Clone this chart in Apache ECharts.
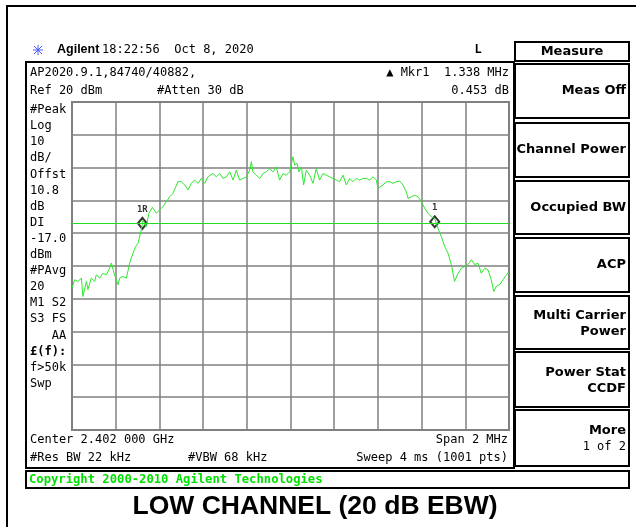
<!DOCTYPE html>
<html>
<head>
<meta charset="utf-8">
<script src="https://cdn.jsdelivr.net/npm/echarts@6/dist/echarts.min.js"></script>
<style>
  html, body { margin: 0; padding: 0; background: #fff; }
  #chart { width: 636px; height: 527px; }
</style>
</head>
<body>
<div id="chart"></div>
<script>
// trace (MHz, dBm)
const freqMHz = [
  2401.000, 2401.012, 2401.027, 2401.043, 2401.050, 2401.066, 2401.073, 2401.088, 2401.104, 2401.111,
  2401.127, 2401.142, 2401.157, 2401.172, 2401.180, 2401.188, 2401.195, 2401.211, 2401.218, 2401.233,
  2401.249, 2401.256, 2401.264, 2401.279, 2401.291, 2401.302, 2401.317, 2401.325, 2401.333, 2401.340,
  2401.352, 2401.368, 2401.386, 2401.401, 2401.416, 2401.432, 2401.447, 2401.462, 2401.485, 2401.500,
  2401.516, 2401.531, 2401.546, 2401.561, 2401.577, 2401.592, 2401.607, 2401.622, 2401.645, 2401.661,
  2401.676, 2401.691, 2401.706, 2401.722, 2401.737, 2401.752, 2401.767, 2401.783, 2401.798, 2401.813,
  2401.821, 2401.828, 2401.844, 2401.859, 2401.874, 2401.889, 2401.905, 2401.920, 2401.935, 2401.950,
  2401.966, 2401.981, 2401.996, 2402.011, 2402.019, 2402.030, 2402.039, 2402.050, 2402.060, 2402.072,
  2402.088, 2402.103, 2402.118, 2402.133, 2402.149, 2402.164, 2402.179, 2402.194, 2402.210, 2402.225,
  2402.240, 2402.256, 2402.271, 2402.286, 2402.301, 2402.317, 2402.332, 2402.347, 2402.362, 2402.378,
  2402.393, 2402.400, 2402.408, 2402.423, 2402.439, 2402.454, 2402.469, 2402.484, 2402.500, 2402.515,
  2402.530, 2402.538, 2402.553, 2402.568, 2402.584, 2402.599, 2402.614, 2402.629, 2402.645, 2402.660,
  2402.675, 2402.690, 2402.706, 2402.721, 2402.736, 2402.751, 2402.767, 2402.782, 2402.797, 2402.812,
  2402.828, 2402.843, 2402.858, 2402.873, 2402.889, 2402.904, 2402.919, 2402.930, 2402.942, 2402.957,
  2402.973, 2402.988, 2403.000
];
const levelDbm = [
  -36.7, -34.2, -34.7, -33.7, -39.3, -34.7, -37.2, -33.7, -34.7, -32.7,
  -33.7, -32.2, -32.7, -30.7, -29.1, -29.6, -32.7, -35.7, -33.7, -33.2,
  -33.7, -33.2, -29.1, -26.1, -24.1, -23.1, -19.0, -16.0, -15.5, -18.0,
  -13.9, -12.1, -13.9, -12.9, -11.9, -10.4, -8.9, -7.9, -4.3, -4.3,
  -5.3, -6.8, -4.8, -3.8, -4.8, -3.3, -4.8, -2.8, -1.8, -2.8,
  -1.8, -3.3, -2.8, -1.3, -3.8, -0.8, -3.8, -3.3, -2.8, -0.8,
  1.8, -1.3, -2.3, -3.3, -1.8, -1.3, -0.3, -1.3, 0.2, -3.8,
  -1.8, -2.3, -1.3, 3.3, 0.8, 1.3, -1.3, 0.2, -5.3, -0.8,
  -2.3, -4.8, -0.3, -3.8, -1.8, -2.3, -2.8, -3.3, -3.8, -4.3,
  -2.3, -5.3, -3.3, -4.3, -3.3, -3.8, -3.3, -3.3, -3.8, -2.8,
  -3.8, -6.3, -5.8, -5.3, -4.3, -4.3, -4.8, -4.3, -4.1, -5.3,
  -7.4, -9.4, -8.9, -8.4, -8.9, -10.4, -12.4, -13.9, -15.0, -15.5,
  -18.5, -21.0, -24.1, -26.1, -29.6, -34.7, -32.2, -30.7, -30.2, -29.6,
  -28.1, -29.6, -29.1, -32.2, -30.7, -31.2, -34.2, -37.8, -36.2, -35.7,
  -34.2, -32.7, -31.7
];
const markerFreq = [2401.322, 2402.660];
const markerLevel = [-17.0, -16.5];
const markerNames = ['1R', '1'];
const displayLineDbm = -17.0;

const leftLabels = ['#Peak', 'Log', '10', 'dB/', 'Offst', '10.8', 'dB', 'DI', '-17.0', 'dBm',
  '#PAvg', '20', 'M1 S2', 'S3 FS', '   AA', '£(f):', 'f>50k', 'Swp'];
const softkeys = [
  ['Meas Off'], ['Channel Power'], ['Occupied BW'], ['ACP'],
  ['Multi Carrier', 'Power'], ['Power Stat', 'CCDF'], ['More', '1 of 2']
];
const softkeyBoxes = [[64, 118], [123, 177], [181, 234], [238, 292], [296, 349], [352, 407], [410, 466]];

const mono = '"DejaVu Sans Mono", monospace';
const keyFont = '"DejaVu Sans", sans-serif';

function txt(x, y, text, opts) {
  return {
    type: 'text', x: x, y: y, silent: true,
    style: Object.assign({
      text: text, fill: '#000', fontFamily: mono, fontSize: 12,
      textAlign: 'left', textVerticalAlign: 'middle'
    }, opts || {})
  };
}
function box(x, y, w, h, lw) {
  return { type: 'rect', silent: true, shape: { x: x, y: y, width: w, height: h },
    style: { fill: 'none', stroke: '#000', lineWidth: lw || 2 } };
}

const gfx = [];
// outer frame
gfx.push({ type: 'polyline', silent: true, shape: { points: [[7, 527], [7, 6], [636, 6]] },
  style: { stroke: '#000', lineWidth: 2, fill: 'none' } });
// header
['-5,0,5,0', '0,-5,0,5', '-4,-4,4,4', '-4,4,4,-4'].forEach(function (s) {
  const p = s.split(',').map(Number);
  gfx.push({ type: 'line', silent: true, shape: { x1: 38 + p[0], y1: 50 + p[1], x2: 38 + p[2], y2: 50 + p[3] },
    style: { stroke: '#4a5cff', lineWidth: 1 } });
});
gfx.push(txt(57, 50, 'Agilent', { fontFamily: '"Liberation Sans", Arial, sans-serif', fontWeight: 'bold', fontSize: 12.5 }));
gfx.push(txt(102, 50, '18:22:56  Oct 8, 2020'));
gfx.push(txt(478, 50, 'L', { fontWeight: 'bold', textAlign: 'center' }));
// main panel
gfx.push(box(26, 62, 488, 406, 2));
gfx.push(txt(30, 73, 'AP2020.9.1,84740/40882,'));
gfx.push(txt(30, 91, 'Ref 20 dBm'));
gfx.push(txt(157, 91, '#Atten 30 dB'));
gfx.push(txt(509, 73, '\u25B2 Mkr1  1.338 MHz', { textAlign: 'right' }));
gfx.push(txt(509, 91, '0.453 dB', { textAlign: 'right' }));
leftLabels.forEach(function (t, i) {
  gfx.push(txt(30, 110 + i * 16.1, t, { fontWeight: t.indexOf('£') === 0 ? 'bold' : 'normal' }));
});
gfx.push(txt(30, 440, 'Center 2.402 000 GHz'));
gfx.push(txt(508, 440, 'Span 2 MHz', { textAlign: 'right' }));
gfx.push(txt(30, 458, '#Res BW 22 kHz'));
gfx.push(txt(188, 458, '#VBW 68 kHz'));
gfx.push(txt(508, 458, 'Sweep 4 ms (1001 pts)', { textAlign: 'right' }));
// softkeys
gfx.push(box(515, 42, 114, 19, 2));
gfx.push(txt(572, 52, 'Measure', { fontFamily: keyFont, fontWeight: 'bold', fontSize: 13, textAlign: 'center' }));
softkeys.forEach(function (lines, i) {
  const b = softkeyBoxes[i];
  gfx.push(box(515, b[0], 114, b[1] - b[0], 2));
  const mid = (b[0] + b[1]) / 2;
  lines.forEach(function (t, j) {
    const y = lines.length === 1 ? mid : mid - 7 + j * 16;
    const last = i === softkeys.length - 1 && j === 1;
    gfx.push(txt(626, y, t, {
      fontFamily: last ? mono : keyFont, fontWeight: last ? 'normal' : 'bold',
      fontSize: last ? 12 : 13, textAlign: 'right'
    }));
  });
});
// copyright bar
gfx.push(box(26, 471, 603, 17, 2));
gfx.push(txt(29, 480, 'Copyright 2000-2010 Agilent Technologies',
  { fill: '#00e000', fontWeight: 'bold', fontSize: 12.2 }));
// caption
gfx.push(txt(315, 507, 'LOW CHANNEL (20 dB EBW)', {
  fontFamily: '"Liberation Sans", Arial, sans-serif', fontWeight: 'bold', fontSize: 26.5, textAlign: 'center'
}));

const chart = echarts.init(document.getElementById('chart'));
chart.setOption({
  animation: false,
  backgroundColor: '#fff',
  grid: { left: 72, top: 102, width: 437, height: 328, show: true, borderColor: '#808080', borderWidth: 2 },
  xAxis: {
    type: 'value', min: 2401, max: 2403, interval: 0.2,
    axisLine: { show: false }, axisTick: { show: false }, axisLabel: { show: false },
    splitLine: { show: true, lineStyle: { color: '#808080', width: 1.5 } }
  },
  yAxis: {
    type: 'value', min: -80, max: 20, interval: 10,
    axisLine: { show: false }, axisTick: { show: false }, axisLabel: { show: false },
    splitLine: { show: true, lineStyle: { color: '#808080', width: 1.5 } }
  },
  series: [
    {
      type: 'line', data: freqMHz.map(function (f, i) { return [f, levelDbm[i]]; }),
      showSymbol: false, lineStyle: { color: '#2ee82e', width: 1 },
      markLine: {
        silent: true, symbol: 'none', label: { show: false },
        lineStyle: { color: '#22dd22', width: 1, type: 'solid' },
        data: [{ yAxis: displayLineDbm }]
      }
    },
    {
      type: 'scatter', symbol: 'diamond', symbolSize: [9, 11],
      itemStyle: { color: 'rgba(255,255,255,0)', borderColor: '#000', borderWidth: 2 },
      label: {
        show: true, position: 'top', distance: 3, color: '#000',
        fontFamily: mono, fontSize: 9, fontWeight: 'bold',
        formatter: function (p) { return markerNames[p.dataIndex]; }
      },
      data: markerFreq.map(function (f, i) { return [f, markerLevel[i]]; })
    }
  ],
  graphic: gfx
});
</script>
</body>
</html>
